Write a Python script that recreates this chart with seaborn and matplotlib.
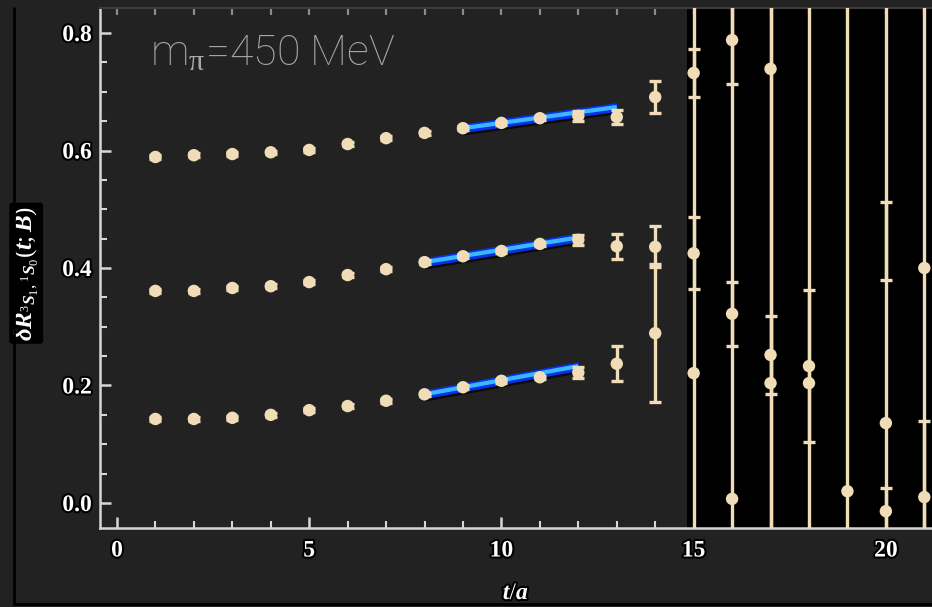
import numpy as np
import pandas as pd
import matplotlib
matplotlib.use("Agg")
import matplotlib.pyplot as plt
import matplotlib.patheffects as pe
from matplotlib.lines import Line2D
from matplotlib.ticker import MultipleLocator
import seaborn as sns

# ---- data -------------------------------------------------------------
t_upper = [1, 2, 3, 4, 5, 6, 7, 8, 9, 10, 11, 12, 13, 14, 15, 16, 17, 20]
r_upper = [0.589, 0.592, 0.594, 0.597, 0.601, 0.611, 0.621, 0.630, 0.638,
           0.647, 0.655, 0.659, 0.657, 0.691, 0.732, 0.788, 0.739, 0.880]
e_upper = [0.003, 0.003, 0.003, 0.003, 0.003, 0.003, 0.003, 0.003, 0.003,
           0.003, 0.003, 0.008, 0.012, 0.027, 0.041, 0.075, 0.900, 0.500]

t_middle = [1, 2, 3, 4, 5, 6, 7, 8, 9, 10, 11, 12, 13, 14, 15, 16, 17, 18, 20, 21]
r_middle = [0.361, 0.361, 0.366, 0.369, 0.376, 0.388, 0.398, 0.410, 0.420,
            0.429, 0.441, 0.448, 0.437, 0.436, 0.425, 0.322, 0.252, 0.233,
            0.136, 0.400]
e_middle = [0.003, 0.003, 0.003, 0.003, 0.003, 0.003, 0.003, 0.003, 0.003,
            0.003, 0.003, 0.009, 0.021, 0.035, 0.061, 0.055, 0.066, 0.130,
            0.376, 0.900]

t_lower = [1, 2, 3, 4, 5, 6, 7, 8, 9, 10, 11, 12, 13, 14, 15, 16, 17, 18, 19, 20, 21]
r_lower = [0.143, 0.143, 0.145, 0.150, 0.158, 0.165, 0.174, 0.185, 0.197,
           0.208, 0.214, 0.222, 0.237, 0.289, 0.221, 0.007, 0.204, 0.204,
           0.020, -0.014, 0.010]
e_lower = [0.003, 0.003, 0.003, 0.003, 0.003, 0.003, 0.003, 0.003, 0.003,
           0.003, 0.003, 0.010, 0.030, 0.117, 0.700, 0.900, 0.900, 0.900,
           0.900, 0.040, 0.130]

# linear fits: (t_start, t_end, value_start, value_end)
fit_upper = (9, 13, 0.638, 0.674)
fit_middle = (8, 12, 0.410, 0.452)
fit_lower = (8, 12, 0.185, 0.233)
fit_halfwidth = 0.0075

xtick_vals = [0, 5, 10, 15, 20]
xtick_text = ["0", "5", "10", "15", "20"]
ytick_vals = [0.0, 0.2, 0.4, 0.6, 0.8]
ytick_text = ["0.0", "0.2", "0.4", "0.6", "0.8"]
noisy_from = 14.84

# ---- style ------------------------------------------------------------
sns.set_style("ticks")
plt.rcParams["font.family"] = ["DejaVu Sans"]
plt.rcParams["mathtext.fontset"] = "custom"
plt.rcParams["mathtext.rm"] = "Liberation Serif"
plt.rcParams["mathtext.it"] = "Liberation Serif:italic:bold"
plt.rcParams["mathtext.bf"] = "Liberation Serif:bold"

BG = "#222222"
CREAM = "#f0ddb8"
AXIS = "#d6d6d6"
shadow = [pe.withStroke(linewidth=3, foreground="black")]

fig = plt.figure(figsize=(9.32, 6.07), dpi=100)
fig.patch.set_facecolor(BG)
ax = fig.add_axes([100 / 932, 79 / 607, 832 / 932, 520 / 607])
ax.set_facecolor(BG)
ax.set_xlim(-0.442, 21.2)
ax.set_ylim(-0.0426, 0.8426)

# dark panel behind the noisy late-time region
ax.axvspan(noisy_from, 21.2, color="black", zorder=0, lw=0)

# fit bands
for t0, t1, v0, v1 in (fit_upper, fit_middle, fit_lower):
    tt = np.array([t0, t1], dtype=float)
    vv = np.array([v0, v1])
    ax.fill_between(tt, vv - fit_halfwidth - 0.004, vv + fit_halfwidth - 0.004,
                    color="black", alpha=0.7, lw=0, zorder=1.5)
    ax.fill_between(tt, vv - fit_halfwidth, vv + fit_halfwidth,
                    color="#0a30e8", lw=0, zorder=2)
    ax.plot(tt, vv, color="#3ab8ff", lw=3.0, zorder=2.2, solid_capstyle="butt")

# points with error bars
frames = []
for name, t, r, e in (("upper", t_upper, r_upper, e_upper),
                      ("middle", t_middle, r_middle, e_middle),
                      ("lower", t_lower, r_lower, e_lower)):
    frames.append(pd.DataFrame({"t": t, "ratio": r, "err": e, "series": name}))
df = pd.concat(frames, ignore_index=True)

ax.errorbar(df["t"], df["ratio"], yerr=df["err"], fmt="none", ecolor=CREAM,
            elinewidth=2.4, capsize=4.5, capthick=2.4, zorder=3)
sns.scatterplot(data=df, x="t", y="ratio", hue="series",
                palette={"upper": CREAM, "middle": CREAM, "lower": CREAM},
                s=80, edgecolor="none", legend=False, ax=ax, zorder=4)

# ---- axes -------------------------------------------------------------
for side in ("left", "bottom"):
    ax.spines[side].set_color(AXIS)
    ax.spines[side].set_linewidth(1.8)
ax.spines["right"].set_visible(False)
ax.spines["top"].set_color("#3c3c3c")
ax.spines["top"].set_linewidth(1.5)

ax.set_xticks(xtick_vals)
ax.set_yticks(ytick_vals)
ax.xaxis.set_minor_locator(MultipleLocator(1))
ax.yaxis.set_minor_locator(MultipleLocator(0.05))
ax.tick_params(axis="both", which="both", direction="in", color=AXIS,
               top=False, right=False)
ax.tick_params(which="major", length=8, width=1.8)
ax.tick_params(which="minor", length=5, width=1.5)
ax.tick_params(axis="x", which="major", pad=9)
ax.tick_params(axis="y", which="major", pad=6)

lab_font = dict(family="Liberation Serif", weight="bold", size=17, color="white")
ax.set_xticklabels(xtick_text, fontdict=lab_font)
ax.set_yticklabels(ytick_text, fontdict=lab_font)
for lbl in ax.get_xticklabels() + ax.get_yticklabels():
    lbl.set_path_effects(shadow)

top = ax.secondary_xaxis("top")
top.set_xticks(list(range(0, 22)))
top.tick_params(direction="in", length=5, width=1.6, color="#8c8c8c",
                labeltop=False)
top.spines["top"].set_color("#3c3c3c")

ax.set_xlabel(r"$t/a$", fontsize=17, color="white")
ax.xaxis.set_label_coords(0.5, -0.1)
ax.xaxis.label.set_va("top")
ax.xaxis.label.set_path_effects(shadow)

ax.set_ylabel(r"$\delta R_{^3S_1,^1S_0}(t;B)$", fontsize=18, color="white",
              bbox=dict(facecolor="black", edgecolor="none",
                        boxstyle="round,pad=0.12"))
ax.yaxis.set_label_coords(-0.072, 0.49)

ax.text(0.86, 0.745, r"m$_{\mathrm{\pi}}$=450 MeV", color="#a8a8a8",
        fontsize=31, family="Roboto", fontweight="light", va="baseline",
        zorder=5)

# frame edge of the panel
fig.add_artist(Line2D([14 / 932, 14 / 932], [3 / 607, 599 / 607],
                      color="black", lw=2, transform=fig.transFigure))
fig.add_artist(Line2D([14 / 932, 1.0], [3 / 607, 3 / 607],
                      color="black", lw=2, transform=fig.transFigure))

fig.savefig("out.png", dpi=100, facecolor=fig.get_facecolor())
